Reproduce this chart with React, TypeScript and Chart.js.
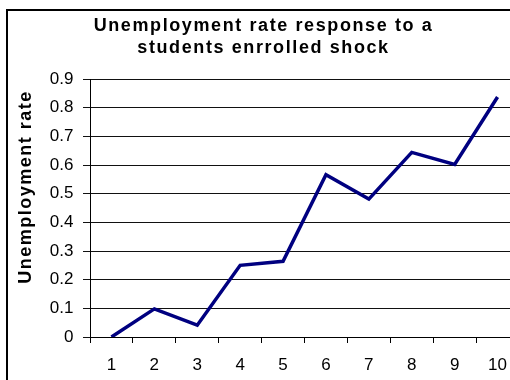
import React, { useEffect, useRef } from 'react';
import { Chart, registerables } from 'chart.js';

Chart.register(...registerables);

const categories = ['1', '2', '3', '4', '5', '6', '7', '8', '9', '10'];
const unemploymentResponse = [0, 0.098, 0.041, 0.25, 0.264, 0.566, 0.481, 0.644, 0.602, 0.837];
const yTickLabels = ['0', '0.1', '0.2', '0.3', '0.4', '0.5', '0.6', '0.7', '0.8', '0.9'];
const titleLines = ['Unemployment rate response to a', 'students enrrolled shock'];
const yAxisTitle = 'Unemployment rate';

const FONT = "'Liberation Sans', Arial, Helvetica, sans-serif";

const textSpacingPlugin = {
  id: 'textSpacing',
  afterLayout(chart: any) {
    const tb = chart.titleBlock;
    if (tb && !tb.__wrapped) {
      const orig = tb.draw;
      tb.draw = function (...args: any[]) {
        const ctx = chart.ctx;
        ctx.save();
        (ctx as any).letterSpacing = '1.6px';
        orig.apply(this, args);
        ctx.restore();
      };
      tb.__wrapped = true;
    }
    const ys = chart.scales.y;
    if (ys && !ys.__wrapped) {
      const orig = ys.drawTitle;
      ys.drawTitle = function (...args: any[]) {
        const ctx = chart.ctx;
        ctx.save();
        (ctx as any).letterSpacing = '1.5px';
        ctx.translate(0, -21);
        orig.apply(this, args);
        ctx.restore();
      };
      ys.__wrapped = true;
    }
  },
};

export default function App() {
  const canvasRef = useRef<HTMLCanvasElement | null>(null);

  useEffect(() => {
    if (!canvasRef.current) return;
    const chart = new Chart(canvasRef.current, {
      type: 'line',
      data: {
        labels: categories,
        datasets: [
          {
            data: unemploymentResponse,
            borderColor: '#000080',
            backgroundColor: '#000080',
            borderWidth: 3.5,
            pointRadius: 0,
            tension: 0,
            fill: false,
          },
        ],
      },
      options: {
        responsive: false,
        animation: false,
        layout: { padding: { left: 0, right: 13, top: 0, bottom: 0 } },
        plugins: {
          legend: { display: false },
          tooltip: { enabled: false },
          title: {
            display: true,
            text: titleLines,
            color: '#000',
            font: { family: FONT, size: 18, weight: 'bold', lineHeight: '22px' },
            padding: { top: 4.5, bottom: 19.5 },
          },
        },
        scales: {
          x: {
            type: 'category',
            offset: true,
            grid: {
              offset: true,
              drawOnChartArea: false,
              drawTicks: true,
              tickLength: 6,
              color: '#000',
              lineWidth: 1,
            },
            border: { display: true, color: '#000', width: 1 },
            ticks: {
              color: '#000',
              font: { family: FONT, size: 17 },
              padding: 12,
              maxRotation: 0,
              autoSkip: false,
            },
            afterFit: (s: any) => {
              s.height = 46;
            },
          },
          y: {
            min: 0,
            max: 0.9,
            ticks: {
              stepSize: 0.1,
              color: '#000',
              font: { family: FONT, size: 17 },
              padding: 9.5,
              callback: (v: any) => yTickLabels[Math.round(Number(v) * 10)],
            },
            grid: { color: '#111', lineWidth: 1, tickLength: 7, drawTicks: true },
            border: { display: true, color: '#000', width: 1 },
            title: {
              display: true,
              text: yAxisTitle,
              color: '#000',
              font: { family: FONT, size: 18, weight: 'bold', lineHeight: 1.2 },
              padding: { top: 7, bottom: 0 },
            },
            afterFit: (s: any) => {
              s.width = 82;
            },
          },
        },
      },
      plugins: [textSpacingPlugin],
    } as any);
    return () => chart.destroy();
  }, []);

  return (
    <div
      style={{
        position: 'fixed',
        left: 0,
        top: 0,
        width: 510,
        height: 380,
        overflow: 'hidden',
        background: '#fff',
      }}
    >
      <div
        style={{
          position: 'absolute',
          left: 6,
          top: 9,
          width: 524,
          height: 372,
          border: '2px solid #000',
        }}
      >
        <canvas ref={canvasRef} width={524} height={372} style={{ display: 'block' }} />
      </div>
    </div>
  );
}
